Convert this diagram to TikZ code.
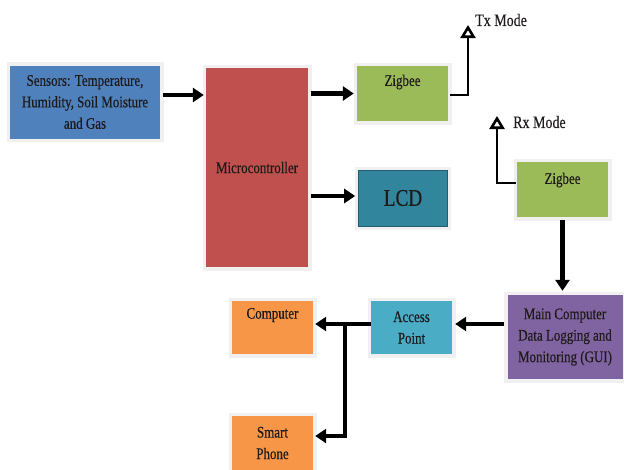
\documentclass[tikz,border=0pt]{standalone}
\usepackage{fontspec}
\setmainfont[FakeStretch=0.8,FakeBold=0.3]{Liberation Serif}
\usetikzlibrary{arrows.meta}
\definecolor{cblue}{HTML}{4F81BD}
\definecolor{cred}{HTML}{C0504D}
\definecolor{cgreen}{HTML}{9BBB59}
\definecolor{cteal}{HTML}{31859C}
\definecolor{cpurple}{HTML}{8064A2}
\definecolor{caqua}{HTML}{4BACC6}
\definecolor{corange}{HTML}{F79646}
\definecolor{txt}{HTML}{1E1A1A}
\begin{document}
\begin{tikzpicture}[x=1pt,y=-1pt,
  box/.style={rectangle, inner sep=0pt, align=center, text=txt,
    font=\fontsize{16.2}{21.5}\selectfont,
    preaction={draw=black!6, line width=7pt}},
  arr/.style={line width=4.2pt, -{Triangle[length=11pt,width=14pt]}},
  oarr/.style={line width=2.6pt, -{Triangle[open,length=13pt,width=15pt]}},
  lbl/.style={text=txt, font=\fontsize{17.5}{20}\selectfont, inner sep=0pt},
  inl/.style={text=txt, font=\fontsize{16.2}{20}\selectfont, inner sep=0pt}]
\useasboundingbox (0,0) rectangle (624,469);
\begin{scope}
\clip (0,0) rectangle (624,469);
\node[box, fill=cblue, minimum width=150pt, minimum height=73pt] (sens) at (85,102)
  {Sensors: Temperature,\\Humidity, Soil Moisture\\and Gas};
\node[box, fill=cred, minimum width=102pt, minimum height=199pt] (mc) at (257,167.5) {Microcontroller};
\node[box, fill=cgreen, minimum width=91pt, minimum height=55pt,
  label={[inl, yshift=11.5pt]center:Zigbee}] (zig1) at (402.5,93.5) {};
\node[box, fill=cteal, draw=cteal!70!black, line width=0.6pt, minimum width=89pt, minimum height=56pt,
  font=\fontsize{24}{26}\selectfont] (lcd) at (403,198) {LCD};
\node[box, fill=cgreen, minimum width=91pt, minimum height=55pt,
  label={[inl, yshift=9.5pt]center:Zigbee}] (zig2) at (562.5,189.5) {};
\node[box, fill=cpurple, minimum width=115pt, minimum height=84pt] (main) at (565,337)
  {Main Computer\\Data Logging and\\Monitoring (GUI)};
\node[box, fill=caqua, minimum width=81pt, minimum height=53pt] (ap) at (411.5,327.5) {Access\\Point};
\node[box, fill=corange, minimum width=81pt, minimum height=53pt,
  label={[inl, yshift=12.5pt]center:Computer}] (comp) at (272.5,327.5) {};
\node[box, fill=corange, minimum width=81pt, minimum height=54pt] (phone) at (272.5,443) {Smart\\Phone};
\end{scope}

\node[lbl, anchor=west] (txl) at (475,20) {Tx Mode};
\node[lbl, anchor=west] (rxl) at (513,122) {Rx Mode};
\coordinate (tx) at (468,25);
\coordinate (rx) at (497,116);
\coordinate (br) at (345,324);

\draw[arr] ([xshift=3pt,yshift=7pt]sens.east) -- ([xshift=-2pt,yshift=7pt]sens.east -| mc.west);
\draw[arr] ([xshift=3pt]mc.east |- zig1.west) -- ([xshift=-3pt]zig1.west);
\draw[arr] ([xshift=3pt,yshift=2pt]mc.east |- lcd.west) -- ([xshift=-3pt,yshift=2pt]lcd.west);
\draw[oarr] ([xshift=2pt,yshift=-1.5pt]zig1.east) -| (tx);
\draw[oarr] ([xshift=-1pt,yshift=6.5pt]zig2.west) -| (rx);
\draw[arr] ([yshift=-3pt]zig2.south) -- ([yshift=4pt]zig2.south |- main.north);
\draw[arr] ([xshift=-3pt,yshift=3.5pt]main.west |- ap.east) -- ([xshift=3pt,yshift=3.5pt]ap.east);
\draw[arr] ([yshift=3.5pt]ap.west) -- ([xshift=2pt,yshift=3.5pt]comp.east |- ap.west);
\draw[arr] (br) |- ([xshift=2pt,yshift=7pt]phone.east);
\end{tikzpicture}
\end{document}
